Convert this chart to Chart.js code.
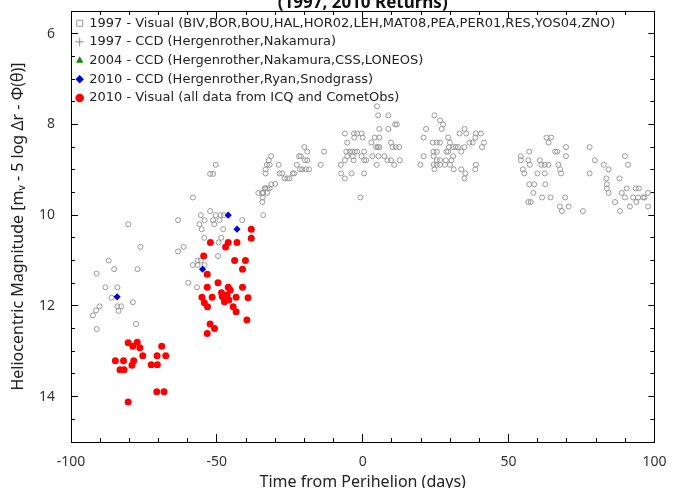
<!DOCTYPE html>
<html>
<head>
<meta charset="utf-8">
<script src="https://cdn.jsdelivr.net/npm/chart.js@4.4.0/dist/chart.umd.min.js"></script>
<style>
  html, body { margin: 0; padding: 0; background: #fff; overflow: hidden; }
  #wrap { position: relative; width: 678px; height: 488px; overflow: hidden; }
  #c { position: absolute; left: 0; top: -20px; }
</style>
</head>
<body>
<div id="wrap"><canvas id="c" width="678" height="528"></canvas></div>
<script>
// 1997 visual (open circles)
const visual97Days = [
  -92.5, -91.4, -91.2, -91.2, -90.2, -88.2, -87.1, -86.1, -85.2, -84.1, -84.1, -83.7, -82.8, -80.4, -78.8, -77.7, -77.2, -76.2,
  -63.3, -63.3, -61.4, -59.8, -58.2, -58.2, -56.8, -56.6, -56.6, -56.0, -55.5, -55.5, -55.2, -54.3, -54.2, -54.2, -52.3, -52.3,
  -51.3, -51.3, -50.9, -50.4, -50.4, -49.6, -49.4, -49.1, -48.7, -48.5, -47.8, -47.6, -41.3,
  -35.8, -34.5, -34.4, -34.3, -34.1, -34.1, -33.6, -33.3, -33.3, -33.3, -32.8, -32.8, -32.7, -32.2, -31.9, -31.9, -31.4, -31.3,
  -30.0, -28.8, -28.5, -27.6, -26.8, -25.9, -25.1, -24.0, -23.5, -22.6, -21.8, -21.5, -21.2, -20.7, -20.0, -19.8, -19.5, -19.0,
  -19.0, -18.4, -14.4, -13.2, -7.5, -7.4, -6.1, -6.1, -6.1, -5.6, -5.3, -5.3, -4.4, -3.8, -3.6, -3.4, -3.1, -3.0, -2.9, -2.7,
  -1.9, -1.9, -0.8, -0.4, -0.4, 0.0, 0.5, 0.5, 0.5, 1.2, 3.0, 3.3, 4.1, 4.6, 4.8, 4.9, 5.2, 5.3, 5.4, 5.7, 5.7, 5.7, 7.4, 8.5,
  8.8, 8.8, 9.7, 9.7, 10.2, 10.8, 11.1, 11.3, 11.7, 12.5, 12.7,
  19.8, 20.9, 20.9, 21.7, 24.0, 24.3, 24.3, 24.3, 24.6, 24.6, 25.4, 25.4, 25.4, 25.4, 26.5, 26.5, 26.5, 26.5, 27.1, 27.6, 28.2,
  28.5, 28.7, 29.3, 29.3, 29.6, 29.9, 29.9, 30.4, 31.0, 31.0, 31.2, 31.9, 32.7, 33.2, 33.8, 33.8, 34.9, 34.9, 34.9, 35.2, 35.5,
  36.6, 37.7, 38.6, 38.6, 38.8, 38.8, 40.5, 40.9, 41.6,
  54.2, 54.2, 54.9, 55.4, 56.8, 56.8, 57.1, 57.1, 57.3, 57.6, 58.5, 58.8, 59.9, 60.7, 61.3, 61.5, 62.4, 62.4, 62.6, 63.0, 63.7,
  63.7, 64.4, 64.6, 66.0, 66.7, 67.1, 67.6, 67.7, 68.0, 68.3, 69.4, 69.7, 69.7, 70.6, 75.5,
  77.8, 77.8, 79.6, 82.6, 83.5, 83.7, 83.7, 84.3, 84.3, 86.5, 88.0, 88.2, 88.8, 89.9, 89.9, 90.5, 91.0, 91.6, 92.7, 93.6, 93.8,
  94.4, 94.7, 96.1, 96.6, 97.8, 97.8
];
const visual97Mag = [
  12.21, 12.10, 12.51, 11.29, 12.01, 11.59, 11.00, 11.82, 11.19, 11.59, 12.01, 12.11, 12.01, 10.20, 11.92, 12.40, 11.19, 10.70,
  10.11, 10.80, 10.70, 11.49, 9.61, 11.10, 11.59, 11.10, 11.00, 10.20, 10.00, 11.00, 10.31, 10.50, 10.11, 11.10, 9.91, 9.09,
  9.09, 10.11, 10.20, 10.00, 8.89, 10.90, 10.60, 10.11, 10.00, 10.50, 10.31, 10.00, 10.11,
  9.51, 9.51, 9.71, 9.61, 9.51, 10.00, 9.41, 9.41, 8.99, 9.08, 9.51, 8.89, 9.41, 8.79, 9.41, 8.89, 8.70, 9.32,
  9.31, 8.89, 9.08, 9.08, 9.19, 9.19, 9.19, 9.08, 9.08, 8.89, 8.70, 8.99, 8.70, 8.99, 8.50, 8.79, 8.99, 8.60,
  8.79, 8.99, 8.89, 8.60, 8.89, 9.08, 8.20, 8.79, 9.19, 8.60, 8.40, 8.70, 8.60, 9.08, 8.60, 8.70, 8.79, 8.20, 8.29, 8.60,
  8.20, 8.60, 9.61, 8.20, 8.70, 8.29, 8.60, 8.79, 9.08, 8.79, 8.40, 8.70, 8.29, 8.50, 8.89, 7.60, 8.50, 7.80, 8.70, 8.10, 8.29, 8.50, 8.70, 8.79,
  7.80, 8.10, 8.40, 8.79, 8.50, 8.89, 8.00, 8.50, 8.00, 8.50, 8.79,
  8.89, 8.70, 8.29, 8.10, 8.40, 8.60, 8.70, 8.89, 7.80, 8.99, 8.40, 8.60, 8.79, 8.89, 7.91, 8.40, 8.79, 8.89, 8.10, 8.00, 8.89,
  8.79, 8.60, 8.29, 8.60, 8.50, 8.40, 8.89, 8.79, 8.50, 8.70, 8.99, 8.50, 8.50, 8.20, 8.60, 8.99, 8.10, 8.50, 9.19, 9.08, 8.20,
  8.40, 8.40, 8.29, 8.99, 8.20, 8.89, 8.20, 8.50, 8.40,
  8.70, 8.79, 8.99, 9.08, 8.79, 9.71, 8.60, 9.32, 8.89, 9.71, 9.51, 9.32, 9.08, 8.79, 8.89, 9.61, 8.89, 9.08, 9.32, 8.29, 8.40,
  8.89, 9.61, 8.29, 8.60, 8.60, 8.89, 9.81, 8.99, 9.08, 9.91, 9.61, 8.50, 8.70, 9.81, 9.91,
  8.50, 9.08, 8.79, 8.89, 9.19, 9.32, 9.41, 8.99, 9.51, 9.71, 9.19, 9.91, 9.51, 8.70, 9.61, 9.41, 8.89, 9.81, 9.61, 9.41, 9.71,
  9.61, 9.41, 9.61, 9.61, 9.51, 9.81
];

// 1997 CCD and 2004 CCD have no points in this window
const ccd97Days = [];
const ccd97Mag = [];
const ccd04Days = [];
const ccd04Mag = [];

// 2010 CCD (blue diamonds)
const ccd10Days = [-84.2, -54.9, -46.1, -43.1];
const ccd10Mag = [11.80, 11.19, 10.00, 10.31];

// 2010 visual (red dots)
const visual10Days = [
  -84.8, -83.2, -82.0, -81.8, -80.4, -80.4, -79.1, -78.8, -78.5, -77.3, -76.4, -75.4, -72.5, -70.6, -70.5, -70.4, -68.9, -68.1, -67.5,
  -55.1, -54.5, -54.3, -53.3, -53.3, -53.3, -53.2, -52.3, -52.2, -51.6, -50.8, -49.6, -48.4, -48.1, -47.4, -47.0, -46.5, -46.1,
  -46.1, -45.9, -45.4, -44.4, -43.9, -43.4, -43.4, -43.1, -41.2, -41.2, -40.2, -39.7, -39.3, -38.2, -38.2
];
const visual10Mag = [
  13.21, 13.41, 13.21, 13.41, 12.81, 14.12, 13.31, 12.89, 13.21, 12.80, 12.92, 13.10, 13.30, 13.89, 13.10, 13.30, 12.89, 13.89, 13.10,
  11.81, 10.90, 11.93, 11.30, 11.59, 12.61, 12.02, 12.40, 10.60, 11.81, 12.50, 11.49, 11.71, 11.80, 11.91, 10.70, 11.76, 10.60,
  11.59, 11.87, 11.65, 12.02, 11.00, 11.81, 12.13, 10.60, 11.19, 11.59, 11.00, 12.31, 11.82, 10.31, 10.51
];

const seriesLabels = [
  "1997 - Visual (BIV,BOR,BOU,HAL,HOR02,LEH,MAT08,PEA,PER01,RES,YOS04,ZNO)",
  "1997 - CCD (Hergenrother,Nakamura)",
  "2004 - CCD (Hergenrother,Nakamura,CSS,LONEOS)",
  "2010 - CCD (Hergenrother,Ryan,Snodgrass)",
  "2010 - Visual (all data from ICQ and CometObs)"
];
const legendStyles = ["rect", "cross", "triangle", "rectRot", "circle"];

const xTicks = [-100, -50, 0, 50, 100];
const yTicks = [6, 8, 10, 12, 14];

function toPoints(xs, ys) {
  return xs.map((x, i) => ({ x: x, y: ys[i] }));
}

Chart.defaults.font.family = "'Noto Sans', 'DejaVu Sans', sans-serif";
Chart.defaults.color = "#333";

// tick-only axis (no labels, ticks pointing into the plot)
function tickAxis(pos, min, max, step, len, reverse) {
  const horiz = pos === "top" || pos === "bottom";
  return {
    type: "linear",
    position: pos,
    min: min,
    max: max,
    reverse: !!reverse,
    weight: 0,
    ticks: { display: false, stepSize: step, autoSkip: false },
    grid: { drawOnChartArea: false, drawTicks: true, tickLength: -len, color: "#000", lineWidth: 1 },
    border: { display: false },
    afterFit: function (s) { if (horiz) s.height = 0; else s.width = 0; }
  };
}

// legend with position "chartArea" keeps top = 0, move it into the plot box
const legendInPlot = {
  id: "legendInPlot",
  afterLayout(chart) {
    const lg = chart.legend;
    if (!lg) return;
    lg.left = chart.chartArea.left;
    lg.top = chart.chartArea.top;
    lg.right = lg.left + lg.width;
    lg.bottom = lg.top + lg.height;
  }
};

const ctx = document.getElementById("c").getContext("2d");
new Chart(ctx, {
  type: "scatter",
  plugins: [legendInPlot],
  data: {
    datasets: [
      {
        label: seriesLabels[0],
        data: toPoints(visual97Days, visual97Mag),
        pointStyle: "circle",
        pointRadius: 2.5,
        borderWidth: 1,
        borderColor: "#999",
        backgroundColor: "rgba(0,0,0,0)",
        order: 5
      },
      {
        label: seriesLabels[1],
        data: toPoints(ccd97Days, ccd97Mag),
        pointStyle: "cross",
        pointRadius: 3,
        borderWidth: 1,
        borderColor: "#888",
        backgroundColor: "#888",
        order: 4
      },
      {
        label: seriesLabels[2],
        data: toPoints(ccd04Days, ccd04Mag),
        pointStyle: "triangle",
        pointRadius: 3.5,
        borderWidth: 0,
        borderColor: "#0a8a0a",
        backgroundColor: "#0a8a0a",
        order: 3
      },
      {
        label: seriesLabels[3],
        data: toPoints(ccd10Days, ccd10Mag),
        pointStyle: "rectRot",
        pointRadius: 3.6,
        borderWidth: 0,
        borderColor: "#0000dd",
        backgroundColor: "#0000dd",
        order: 1
      },
      {
        label: seriesLabels[4],
        data: toPoints(visual10Days, visual10Mag),
        pointStyle: "circle",
        pointRadius: 3.5,
        borderWidth: 0,
        borderColor: "#ff0000",
        backgroundColor: "#ff0000",
        order: 2
      }
    ]
  },
  options: {
    responsive: false,
    animation: false,
    layout: { padding: { left: 0, right: 13, top: 0, bottom: 0 } },
    plugins: {
      tooltip: { enabled: false },
      title: {
        display: true,
        text: "(1997, 2010 Returns)",
        fullSize: false,
        color: "#111",
        font: { size: 17, weight: "bold" },
        padding: { top: 13.3, bottom: -2.7 }
      },
      legend: {
        position: "chartArea",
        align: "start",
        labels: {
          usePointStyle: true,
          boxWidth: 6,
          boxHeight: 6,
          padding: 5.7,
          color: "#222",
          font: { family: "'DejaVu Sans', sans-serif", size: 13 },
          generateLabels: function (chart) {
            const items = Chart.defaults.plugins.legend.labels.generateLabels(chart);
            items.sort((a, b) => a.datasetIndex - b.datasetIndex);
            items.forEach((it) => { it.pointStyle = legendStyles[it.datasetIndex]; });
            return items;
          }
        }
      }
    },
    scales: {
      x: {
        type: "linear",
        position: "bottom",
        min: -100,
        max: 100,
        weight: 5,
        ticks: {
          stepSize: 50,
          autoSkip: false,
          includeBounds: false,
          padding: 11.6,
          color: "#333",
          font: { size: 14 },
          callback: (v) => (xTicks.includes(v) ? String(v) : "")
        },
        grid: { display: false, drawTicks: false, drawOnChartArea: false },
        border: { display: true, color: "#000", width: 1 },
        title: {
          display: true,
          text: "Time from Perihelion (days)",
          color: "#222",
          font: { size: 16 },
          padding: { top: 0, bottom: 16.4 }
        },
        afterFit: function (s) { s.height = 66; }
      },
      xMinor: tickAxis("bottom", -100, 100, 10, 4),
      xMajor: tickAxis("bottom", -100, 100, 50, 8),
      xTop: {
        type: "linear",
        position: "top",
        min: -100,
        max: 100,
        weight: 0,
        ticks: { display: false },
        grid: { display: false, drawTicks: false, drawOnChartArea: false },
        border: { display: true, color: "#000", width: 1 },
        afterFit: function (s) { s.height = 0; }
      },
      xTopMinor: tickAxis("top", -100, 100, 10, 4),
      xTopMajor: tickAxis("top", -100, 100, 50, 8),
      y: {
        type: "linear",
        position: "left",
        reverse: true,
        min: 5.5,
        max: 15,
        weight: 5,
        ticks: {
          stepSize: 2,
          autoSkip: false,
          includeBounds: false,
          padding: 16,
          color: "#333",
          font: { size: 14 },
          callback: (v) => (yTicks.includes(v) ? String(v) : "")
        },
        grid: { display: false, drawTicks: false, drawOnChartArea: false },
        border: { display: true, color: "#000", width: 1 },
        title: {
          display: true,
          text: "Heliocentric Magnitude [m\u1D65 - 5 log \u0394r - \u03A6(\u03B8)]",
          color: "#222",
          font: { size: 16 },
          padding: { top: 8.4, bottom: 0 }
        },
        afterFit: function (s) { s.width = 71; }
      },
      yMinor: tickAxis("left", 5.5, 15, 0.5, 4, true),
      yMajor: tickAxis("left", 5.5, 15, 2, 7, true),
      yRight: Object.assign(tickAxis("right", 5.5, 15, 0.5, 4, true), {
        border: { display: true, color: "#000", width: 1 }
      }),
      yRightMajor: tickAxis("right", 5.5, 15, 2, 6, true)
    }
  }
});
</script>
</body>
</html>
